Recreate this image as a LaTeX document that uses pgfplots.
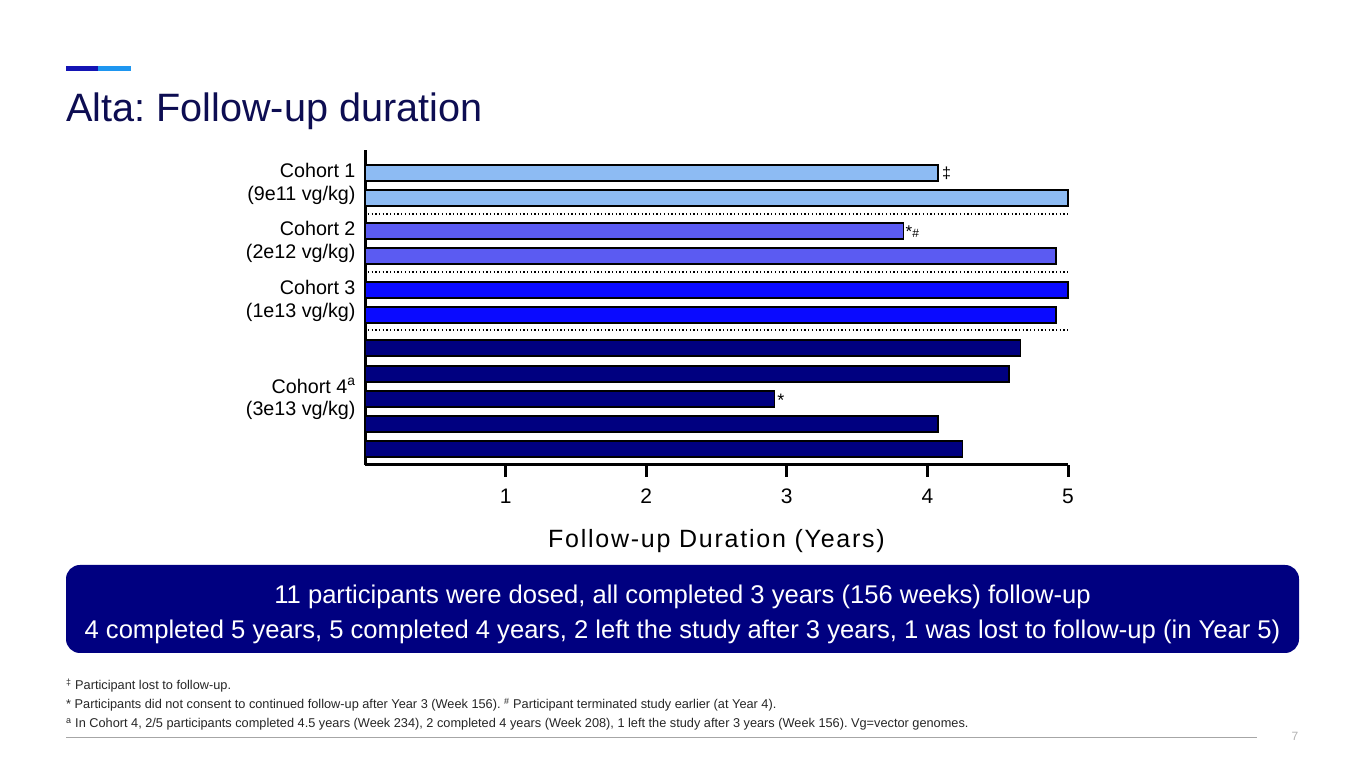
\documentclass[border=0pt]{standalone}
\usepackage{fontspec}
\setmainfont{Liberation Sans}
\usepackage{pgfplots}
\pgfplotsset{compat=1.18}

\definecolor{cohortA}{HTML}{8DBBF3}
\definecolor{cohortB}{HTML}{5B5BF2}
\definecolor{cohortC}{HTML}{0A0AFF}
\definecolor{cohortD}{HTML}{000080}
\definecolor{titlenavy}{HTML}{0D0D52}
\definecolor{banner}{HTML}{000080}
\definecolor{accentdark}{HTML}{1414B4}
\definecolor{accentlight}{HTML}{1E96F0}

\pgfplotsset{
  durbar/.style={xbar, bar shift=0pt, bar width=16, draw=black, line width=1.2pt},
}

\begin{document}
\frenchspacing
\begin{tikzpicture}[x=1pt,y=1pt]
\fill[white] (0,0) rectangle (1365,768);

% header
\fill[accentdark] (66,697) rectangle (98,702);
\fill[accentlight] (98,697) rectangle (131,702);
\node[anchor=base west, inner sep=0pt, text=titlenavy, font=\fontsize{39.6}{48}\selectfont] at (66,646) {Alta: Follow-up duration};

\begin{axis}[
  at={(365pt,303pt)}, anchor=south west,
  scale only axis, width=703pt, height=315pt,
  xmin=0, xmax=5, ymin=0, ymax=315,
  axis lines=left,
  axis line style={-, line width=3pt},
  x axis line style={line width=3pt},
  y axis line style={line width=3pt},
  xtick={1,2,3,4,5},
  tick align=outside,
  every tick/.append style={line width=3pt, black},
  x tick style={line width=3pt, black},
  major tick length=12pt,
  ytick={281,223,164,66},
  yticklabels={Cohort 1\\(9e11 vg/kg), Cohort 2\\(2e12 vg/kg), Cohort 3\\(1e13 vg/kg), Cohort 4\textsuperscript{a}\\(3e13 vg/kg)},
  y tick style={draw=none},
  yticklabel style={align=right, font=\fontsize{19.7}{22.5}\selectfont, xshift=6pt},
  xticklabel style={font=\fontsize{21}{24}\selectfont, text height=15pt, text depth=0pt, yshift=-8pt},
  /pgf/number format/assume math mode=true,
  xlabel={Follow-up Duration (Years)},
  xlabel style={font=\fontsize{25}{28}\selectfont\addfontfeature{LetterSpace=7}, yshift=-19pt},
  clip=false,
]
% Cohort 1
\addplot[durbar, fill=cohortA] coordinates {(4.075,292) (5.0,267)};
% Cohort 2
\addplot[durbar, fill=cohortB] coordinates {(3.83,234) (4.915,209)};
% Cohort 3
\addplot[durbar, fill=cohortC] coordinates {(5.0,175) (4.915,150)};
% Cohort 4
\addplot[durbar, fill=cohortD] coordinates {(4.66,117) (4.58,91) (2.91,66) (4.075,41) (4.25,16)};

% separators
\draw[line width=1.3pt, dash pattern=on 1.3pt off 2.4pt] (axis cs:0.02,251) -- (axis cs:5,251);
\draw[line width=1.3pt, dash pattern=on 1.3pt off 2.4pt] (axis cs:0.02,193) -- (axis cs:5,193);
\draw[line width=1.3pt, dash pattern=on 1.3pt off 2.4pt] (axis cs:0.02,135) -- (axis cs:5,135);

% annotations
\node[anchor=west, inner sep=4pt, font=\fontsize{16}{18}\selectfont] at (axis cs:4.075,292) {‡};
\node[anchor=west, inner sep=2pt, font=\fontsize{17}{18}\selectfont] at (axis cs:3.83,233) {*\fontsize{12}{14}\selectfont\#};
\node[anchor=west, inner sep=3pt, font=\fontsize{18}{18}\selectfont] at (axis cs:2.91,65) {*};
\end{axis}

% banner
\fill[banner, rounded corners=14pt] (66,115) rectangle (1299,203);
\node[anchor=base, inner sep=0pt, text=white, font=\fontsize{25.6}{28}\selectfont] at (682.5,164) {11 participants were dosed, all completed 3 years (156 weeks) follow-up};
\node[anchor=base, inner sep=0pt, text=white, font=\fontsize{25.6}{28}\selectfont] at (682.5,129) {4 completed 5 years, 5 completed 4 years, 2 left the study after 3 years, 1 was lost to follow-up (in Year 5)};

% footnotes
\begin{scope}[every node/.style={anchor=base west, inner sep=0pt, text=black!85, font=\fontsize{12.75}{15}\selectfont}]
\node at (66,78) {\textsuperscript{‡} Participant lost to follow-up.};
\node at (66,59) {* Participants did not consent to continued follow-up after Year 3 (Week 156). \textsuperscript{\#} Participant terminated study earlier (at Year 4).};
\node at (66,40) {\textsuperscript{a} In Cohort 4, 2/5 participants completed 4.5 years (Week 234), 2 completed 4 years (Week 208), 1 left the study after 3 years (Week 156). Vg=vector genomes.};
\end{scope}
\draw[black!35, line width=0.8pt] (66,31) -- (1257,31);
\node[anchor=base, inner sep=0pt, text=black!30, font=\fontsize{12}{14}\selectfont] at (1295,27) {7};

\pgfresetboundingbox
\path (0,0) rectangle (1365,768);
\end{tikzpicture}
\end{document}
